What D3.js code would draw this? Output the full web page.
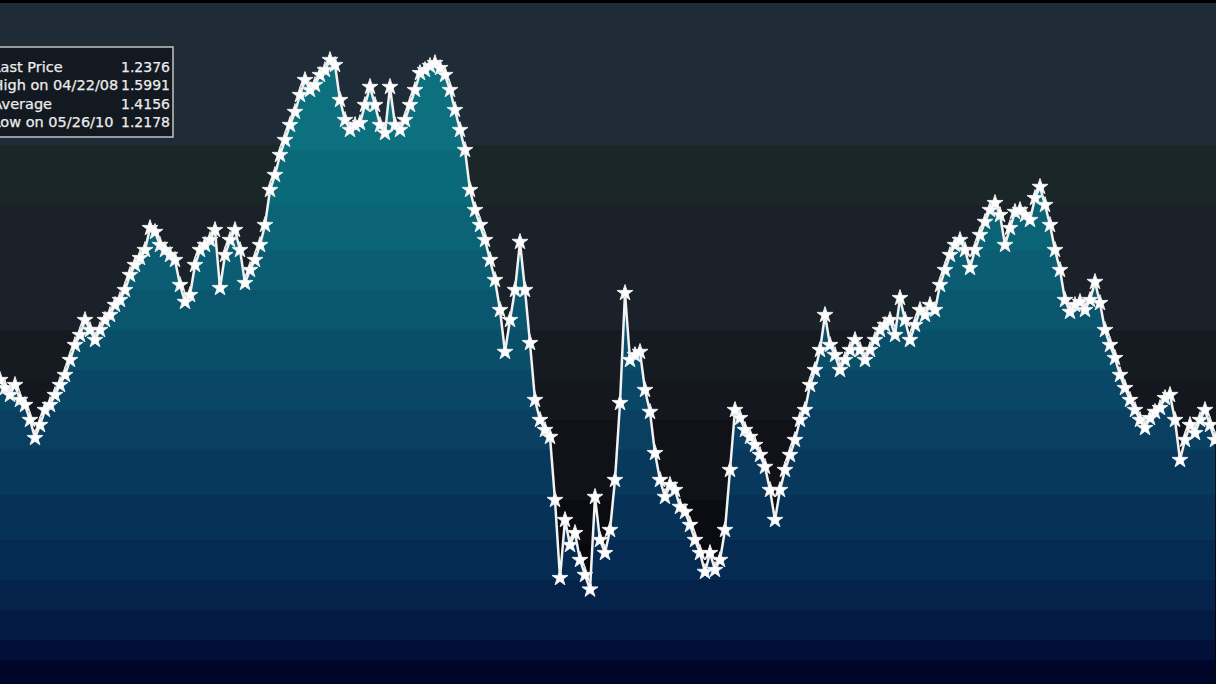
<!DOCTYPE html>
<html>
<head>
<meta charset="utf-8">
<script src="https://cdn.jsdelivr.net/npm/d3@7/dist/d3.min.js"></script>
<style>
  html, body { margin: 0; padding: 0; background: #000; overflow: hidden; }
  svg { display: block; }
</style>
</head>
<body>
<svg id="chart" width="1216" height="684"></svg>
<script>
// ---- Data (weekly closes) ----
const prices = [
  1.3687,1.3629,1.3579,1.3651,1.3543,1.3507,1.3399,1.3269,1.3363,1.3471,
  1.3507,1.3579,1.3651,1.3723,1.3831,1.3939,1.4011,1.4119,1.4047,1.3975,
  1.4047,1.4119,1.4155,1.4227,1.4263,1.4335,1.4443,1.4515,1.4565,1.4623,
  1.4781,1.4753,1.4659,1.4623,1.4587,1.4551,1.4371,1.4249,1.4299,1.4515,
  1.4623,1.4659,1.4695,1.4767,1.4349,1.4587,1.4695,1.4767,1.4623,1.4385,
  1.4479,1.4551,1.4659,1.4803,1.5055,1.5163,1.5307,1.5415,1.5523,1.5617,
  1.5739,1.5847,1.5775,1.5811,1.5883,1.5919,1.5991,1.5955,1.5703,1.5559,
  1.5487,1.5523,1.5537,1.5667,1.5797,1.5667,1.5523,1.5465,1.5797,1.5523,
  1.5487,1.5559,1.5667,1.5775,1.5897,1.5919,1.5948,1.5969,1.5933,1.5883,
  1.5775,1.5631,1.5487,1.5343,1.5055,1.4911,1.4803,1.4695,1.4551,1.4407,
  1.4191,1.3889,1.4119,1.4335,1.4681,1.4335,1.3953,1.3543,1.3399,1.3327,
  1.3277,1.2823,1.2261,1.2679,1.2499,1.2585,1.2391,1.2283,1.2178,1.2845,
  1.2535,1.2441,1.2607,1.2967,1.3521,1.4313,1.3831,1.3867,1.3889,1.3615,
  1.3457,1.3161,1.2967,1.2845,1.2931,1.2895,1.2773,1.2737,1.2643,1.2535,
  1.2441,1.2305,1.2441,1.2319,1.2391,1.2607,1.3039,1.3471,1.3413,1.3327,
  1.3277,1.3219,1.3147,1.3061,1.2895,1.2679,1.2895,1.3039,1.3147,1.3255,
  1.3399,1.3471,1.3651,1.3759,1.3903,1.4155,1.3939,1.3867,1.3759,1.3831,
  1.3903,1.3975,1.3903,1.3831,1.3903,1.3975,1.4047,1.4083,1.4119,1.4011,
  1.4277,1.4119,1.3975,1.4083,1.4191,1.4155,1.4227,1.4191,1.4371,1.4479,
  1.4587,1.4659,1.4695,1.4623,1.4493,1.4623,1.4731,1.4825,1.4911,1.4961,
  1.4875,1.4659,1.4781,1.4897,1.4911,1.4875,1.4839,1.4997,1.5077,1.4947,
  1.4803,1.4623,1.4479,1.4263,1.4177,1.4227,1.4249,1.4191,1.4263,1.4393,
  1.4241,1.4047,1.3939,1.3845,1.3723,1.3629,1.3543,1.3471,1.3399,1.3341,
  1.3413,1.3457,1.3485,1.3557,1.3579,1.3399,1.3111,1.3255,1.3363,1.3305,
  1.3399,1.3471,1.3363,1.3255
];
const legendLabels = ["Last Price", "High on 04/22/08", "Average", "Low on 05/26/10"];
const legendValues = ["1.2376", "1.5991", "1.4156", "1.2178"];
const yDomain = [1.1498, 1.6423];

// ---- Layout / style ----
const W = 1216, H = 684;
const svg = d3.select("#chart");
const defs = svg.append("defs");

function bandGradient(id, bands) {
  const g = defs.append("linearGradient").attr("id", id)
    .attr("gradientUnits", "userSpaceOnUse")
    .attr("x1", 0).attr("x2", 0).attr("y1", 0).attr("y2", H);
  bands.forEach(b => {
    g.append("stop").attr("offset", b[0] / H).attr("stop-color", b[2]);
    g.append("stop").attr("offset", b[1] / H).attr("stop-color", b[2]);
  });
}
bandGradient("bgGrad", [
  [0, 3, "#000000"], [3, 145, "#1f2b36"], [145, 205, "#1b2629"],
  [205, 330, "#1a2128"], [330, 380, "#161b22"], [380, 420, "#14171d"],
  [420, 500, "#101217"], [500, 545, "#0b0c11"], [545, 600, "#07080c"],
  [600, 684, "#05050a"]
]);
bandGradient("fillGrad", [
  [0, 150, "#0d707f"], [150, 205, "#0b6a7a"], [205, 250, "#0a6475"],
  [250, 290, "#0a5d72"], [290, 330, "#0a566e"], [330, 370, "#0a4f6a"],
  [370, 410, "#0a4767"], [410, 450, "#094062"], [450, 495, "#08395d"],
  [495, 540, "#073258"], [540, 580, "#062b52"], [580, 610, "#05234a"],
  [610, 640, "#031b42"], [640, 660, "#020f38"], [660, 684, "#00052a"]
]);

svg.append("rect").attr("width", W).attr("height", H).attr("fill", "url(#bgGrad)");

const x = d3.scaleLinear().domain([0, prices.length - 1]).range([0, W - 1]);
const y = d3.scaleLinear().domain(yDomain).range([H, 0]);

const area = d3.area().x((d, i) => x(i)).y0(H).y1(d => y(d));
const line = d3.line().x((d, i) => x(i)).y(d => y(d));

svg.append("path").datum(prices).attr("d", area).attr("fill", "url(#fillGrad)");
svg.append("path").datum(prices).attr("d", line)
  .attr("fill", "none").attr("stroke", "#f2f2f2").attr("stroke-width", 2.5)
  .attr("stroke-linejoin", "round");

const starBig = d3.symbol().type(d3.symbolStar).size(80);
const starSmall = d3.symbol().type(d3.symbolAsterisk).size(40);
const mk = svg.append("g");
mk.selectAll("path.s").data(prices).join("path").attr("class", "s")
  .attr("transform", (d, i) => `translate(${x(i)},${y(d)})`)
  .attr("d", starBig)
  .attr("fill", "#ffffff")
  .attr("stroke", "#e8e8e8").attr("stroke-width", 1);
mk.selectAll("path.a").data(prices).join("path").attr("class", "a")
  .attr("transform", (d, i) => `translate(${x(i)},${y(d)}) rotate(45)`)
  .attr("d", starSmall)
  .attr("fill", "none")
  .attr("stroke", "#ffffff").attr("stroke-width", 1.6);

// ---- Legend ----
const lg = svg.append("g").attr("class", "legend");
lg.append("rect").attr("x", -10).attr("y", 47).attr("width", 183).attr("height", 90)
  .attr("fill", "#131920").attr("stroke", "#c4c4c4").attr("stroke-width", 1.5);
const rowY = [72, 90, 108.5, 127];
legendLabels.forEach((t, i) => {
  lg.append("text").attr("x", -7.5).attr("y", rowY[i]).text(t)
    .attr("fill", "#ececec").attr("font-family", "DejaVu Sans, sans-serif")
    .attr("font-size", 14.5).attr("stroke", "#ececec").attr("stroke-width", 0.25);
  lg.append("text").attr("x", 170).attr("y", rowY[i]).text(legendValues[i])
    .attr("text-anchor", "end")
    .attr("fill", "#ececec").attr("font-family", "DejaVu Sans, sans-serif")
    .attr("font-size", 14).attr("stroke", "#ececec").attr("stroke-width", 0.25);
});
</script>
</body>
</html>
